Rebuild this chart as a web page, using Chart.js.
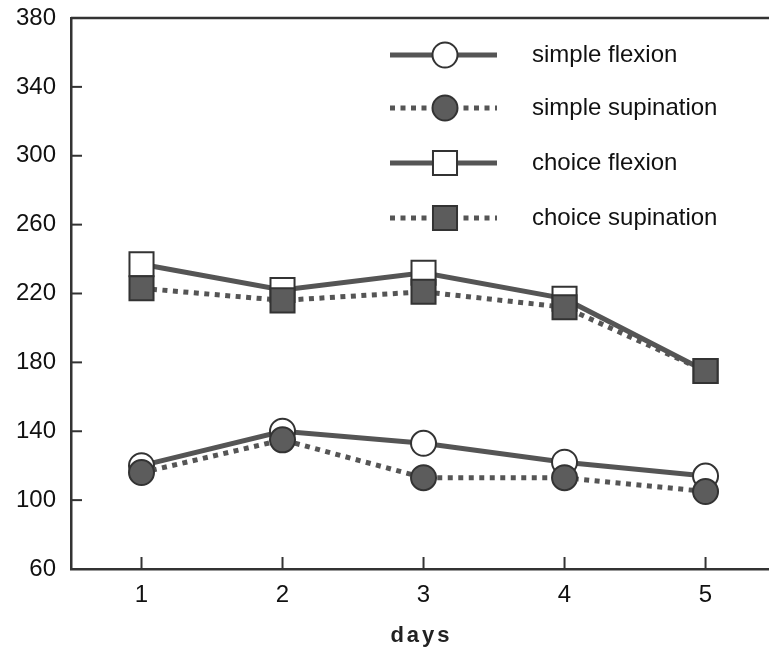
<!DOCTYPE html>
<html>
<head>
<meta charset="utf-8">
<script src="https://cdn.jsdelivr.net/npm/chart.js@4.4.0/dist/chart.umd.min.js"></script>
<style>
  body { margin: 0; background: #fff; }
  canvas { display: block; }
</style>
</head>
<body>
<canvas id="grafico" width="769" height="659"></canvas>
<script>
const days = [1, 2, 3, 4, 5];
const yTicks = [60, 100, 140, 180, 220, 260, 300, 340, 380];
const seriesNames = ['simple flexion', 'simple supination', 'choice flexion', 'choice supination'];
const simpleFlexion = [120, 140, 133, 122, 114];
const simpleSupination = [116, 135, 113, 113, 105];
const choiceFlexion = [237, 222, 232, 217, 175];
const choiceSupination = [223, 216, 221, 212, 175];

const fonte = "'Liberation Sans', Arial, Helvetica, sans-serif";
const cinzaLinha = '#555';
const cinzaBorda = '#333';
const pontilhado = [5, 5.5];

function serie(nome, valores, estilo, cheio, tracejado, ordem) {
  return {
    label: nome,
    data: days.map((d, i) => ({ x: d, y: valores[i] })),
    borderColor: cinzaLinha,
    borderWidth: 5,
    borderDash: tracejado ? pontilhado : [],
    borderCapStyle: 'butt',
    tension: 0,
    pointStyle: estilo,
    pointRadius: estilo === 'rect' ? 17 : 12.5,
    pointBackgroundColor: cheio ? '#5c5c5c' : '#fff',
    pointBorderColor: cinzaBorda,
    pointBorderWidth: 2,
    order: ordem
  };
}

const datasets = [
  serie(seriesNames[0], simpleFlexion, 'circle', false, false, 2),
  serie(seriesNames[1], simpleSupination, 'circle', true, true, 1),
  serie(seriesNames[2], choiceFlexion, 'rect', false, false, 2),
  serie(seriesNames[3], choiceSupination, 'rect', true, true, 1)
];

// moldura de cima e tracinhos para dentro
const moldura = {
  id: 'moldura',
  beforeDatasetsDraw(chart) {
    const { ctx, chartArea, scales } = chart;
    ctx.save();
    ctx.strokeStyle = cinzaBorda;
    ctx.lineWidth = 2.5;
    ctx.beginPath();
    ctx.moveTo(chartArea.left, chartArea.top);
    ctx.lineTo(chartArea.right, chartArea.top);
    ctx.stroke();
    ctx.lineWidth = 2;
    yTicks.slice(1, -1).forEach(v => {
      const y = scales.y.getPixelForValue(v);
      ctx.beginPath();
      ctx.moveTo(chartArea.left, y);
      ctx.lineTo(chartArea.left + 11, y);
      ctx.stroke();
    });
    days.forEach(d => {
      const x = scales.x.getPixelForValue(d);
      ctx.beginPath();
      ctx.moveTo(x, chartArea.bottom);
      ctx.lineTo(x, chartArea.bottom - 12);
      ctx.stroke();
    });
    ctx.restore();
  }
};

function desenharMarcador(ctx, ds, x, y) {
  ctx.save();
  ctx.fillStyle = ds.pointBackgroundColor;
  ctx.strokeStyle = ds.pointBorderColor;
  ctx.lineWidth = ds.pointBorderWidth;
  ctx.setLineDash([]);
  ctx.beginPath();
  if (ds.pointStyle === 'rect') {
    const s = Math.SQRT1_2 * ds.pointRadius;
    ctx.rect(x - s, y - s, 2 * s, 2 * s);
  } else {
    ctx.arc(x, y, ds.pointRadius, 0, Math.PI * 2);
  }
  ctx.fill();
  ctx.stroke();
  ctx.restore();
}

const legenda = {
  id: 'legenda',
  afterDraw(chart) {
    const { ctx, chartArea } = chart;
    const linhasY = [55, 108, 163, 218];
    chart.data.datasets.forEach((ds, i) => {
      const y = linhasY[i];
      ctx.save();
      ctx.strokeStyle = ds.borderColor;
      ctx.lineWidth = ds.borderWidth;
      ctx.setLineDash(ds.borderDash);
      ctx.beginPath();
      ctx.moveTo(390, y);
      ctx.lineTo(497, y);
      ctx.stroke();
      ctx.restore();
      desenharMarcador(ctx, ds, 445, y);
      ctx.save();
      ctx.fillStyle = '#111';
      ctx.font = '24px ' + fonte;
      ctx.textBaseline = 'middle';
      ctx.textAlign = 'left';
      ctx.fillText(ds.label, 532, y);
      ctx.restore();
    });

    // titulo do eixo x, com letras espaçadas
    ctx.save();
    ctx.fillStyle = '#222';
    ctx.font = 'bold 22px ' + fonte;
    ctx.letterSpacing = '3px';
    ctx.textAlign = 'center';
    ctx.textBaseline = 'middle';
    ctx.fillText('days', (chartArea.left + chartArea.right) / 2 + 1.5, 636);
    ctx.restore();
  }
};

Chart.defaults.font.family = fonte;
Chart.defaults.color = '#111';

new Chart(document.getElementById('grafico').getContext('2d'), {
  type: 'line',
  data: { datasets },
  options: {
    responsive: false,
    animation: false,
    layout: { autoPadding: false, padding: { top: 18, right: 0, left: 0, bottom: 0 } },
    plugins: {
      legend: { display: false },
      tooltip: { enabled: false }
    },
    scales: {
      x: {
        type: 'linear',
        min: 0.5,
        max: 5.45,
        afterBuildTicks: scale => { scale.ticks = days.map(d => ({ value: d })); },
        afterFit: scale => {
          scale.height = 90;
          scale.paddingLeft = 0;
          scale.paddingRight = 0;
        },
        grid: { display: false, drawTicks: false },
        border: { display: true, color: cinzaBorda, width: 2.5 },
        ticks: { font: { size: 24 }, padding: 12, color: '#111', callback: v => String(v) }
      },
      y: {
        min: 60,
        max: 380,
        afterBuildTicks: scale => { scale.ticks = yTicks.map(v => ({ value: v })); },
        afterFit: scale => {
          scale.width = 71;
          scale.paddingTop = 0;
          scale.paddingBottom = 0;
        },
        grid: { display: false, drawTicks: false },
        border: { display: true, color: cinzaBorda, width: 2.5 },
        ticks: { font: { size: 24 }, padding: 15, color: '#111' }
      }
    }
  },
  plugins: [moldura, legenda]
});
</script>
</body>
</html>
